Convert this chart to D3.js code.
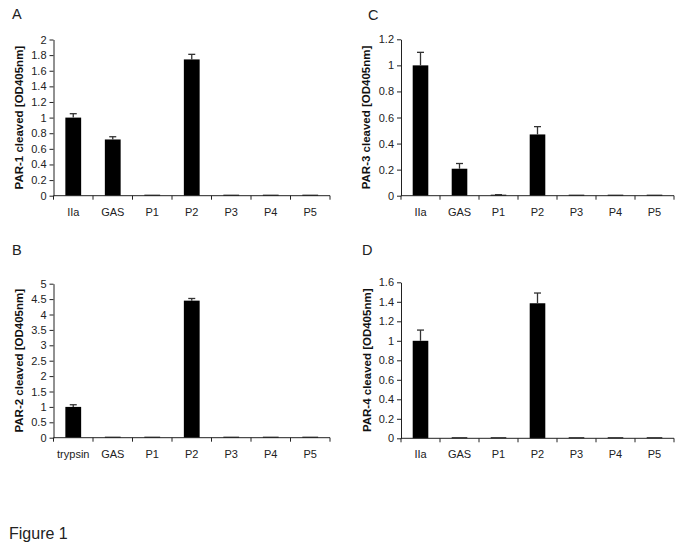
<!DOCTYPE html>
<html>
<head>
<meta charset="utf-8">
<script src="https://cdn.jsdelivr.net/npm/d3@7"></script>
<style>
  html, body { margin: 0; padding: 0; background: #fff; }
  svg { display: block; font-family: Arial, "Liberation Sans", Helvetica, sans-serif; }
</style>
</head>
<body>
<svg id="chart" width="683" height="550"></svg>
<script>
// ---- data ----
const catsA = ["IIa", "GAS", "P1", "P2", "P3", "P4", "P5"];
const valuesA = [1.0, 0.72, 0.0, 1.745, 0.0, 0.0, 0.0];
const errorsA = [0.05, 0.035, 0.0, 0.065, 0.0, 0.0, 0.0];
const ticksA = [0, 0.2, 0.4, 0.6, 0.8, 1, 1.2, 1.4, 1.6, 1.8, 2];

const catsB = ["trypsin", "GAS", "P1", "P2", "P3", "P4", "P5"];
const valuesB = [1.0, 0.01, 0.01, 4.45, 0.01, 0.01, 0.01];
const errorsB = [0.07, 0.0, 0.0, 0.07, 0.0, 0.0, 0.0];
const ticksB = [0, 0.5, 1, 1.5, 2, 2.5, 3, 3.5, 4, 4.5, 5];

const catsC = ["IIa", "GAS", "P1", "P2", "P3", "P4", "P5"];
const valuesC = [1.0, 0.207, 0.005, 0.47, 0.003, 0.003, 0.003];
const errorsC = [0.1, 0.04, 0.003, 0.06, 0.0, 0.0, 0.0];
const ticksC = [0, 0.2, 0.4, 0.6, 0.8, 1, 1.2];

const catsD = ["IIa", "GAS", "P1", "P2", "P3", "P4", "P5"];
const valuesD = [1.0, 0.004, 0.004, 1.385, 0.004, 0.004, 0.004];
const errorsD = [0.11, 0.0, 0.0, 0.105, 0.0, 0.0, 0.0];
const ticksD = [0, 0.2, 0.4, 0.6, 0.8, 1, 1.2, 1.4, 1.6];

const panelLetters = ["A", "B", "C", "D"];
const yTitles = ["PAR-1 cleaved [OD405nm]", "PAR-2 cleaved [OD405nm]", "PAR-3 cleaved [OD405nm]", "PAR-4 cleaved [OD405nm]"];
const figureLabel = "Figure 1";

// ---- layout ----
const panels = [
  { letter: panelLetters[0], title: yTitles[0], cats: catsA, values: valuesA, errors: errorsA, ticks: ticksA,
    x0: 53.5, x1: 330, yTop: 39.5, yBot: 195.7, lx: 12, ly: 18.5, tx: 19 },
  { letter: panelLetters[1], title: yTitles[1], cats: catsB, values: valuesB, errors: errorsB, ticks: ticksB,
    x0: 53.5, x1: 330, yTop: 283.7, yBot: 437.7, lx: 12, ly: 255, tx: 19 },
  { letter: panelLetters[2], title: yTitles[2], cats: catsC, values: valuesC, errors: errorsC, ticks: ticksC,
    x0: 401, x1: 674, yTop: 39.3, yBot: 195.7, lx: 368, ly: 19.5, tx: 366 },
  { letter: panelLetters[3], title: yTitles[3], cats: catsD, values: valuesD, errors: errorsD, ticks: ticksD,
    x0: 401, x1: 674, yTop: 282.3, yBot: 438.3, lx: 362, ly: 255, tx: 367 }
];

const svg = d3.select("#chart");
const axisColor = "#222";
const fmt = d => String(+d.toFixed(2));

panels.forEach(p => {
  const g = svg.append("g");
  const xb = d3.scaleBand().domain(p.cats).range([p.x0, p.x1]);
  const y = d3.scaleLinear().domain([p.ticks[0], p.ticks[p.ticks.length - 1]]).range([p.yBot, p.yTop]);

  // bars
  g.selectAll("rect.bar").data(p.cats).enter().append("rect")
    .attr("class", "bar")
    .attr("x", (d) => xb(d) + xb.bandwidth() * 0.3)
    .attr("width", xb.bandwidth() * 0.4)
    .attr("y", (d, i) => Math.min(y(p.values[i]), p.yBot - 1))
    .attr("height", (d, i) => Math.max(p.yBot - y(p.values[i]), 1))
    .attr("fill", "#000");

  // error bars (upper only)
  const eg = g.selectAll("g.err").data(p.cats).enter().append("g").attr("class", "err")
    .filter((d, i) => p.errors[i] > 0);
  eg.append("line")
    .attr("x1", d => xb(d) + xb.bandwidth() / 2)
    .attr("x2", d => xb(d) + xb.bandwidth() / 2)
    .attr("y1", d => y(p.values[p.cats.indexOf(d)]))
    .attr("y2", d => { const i = p.cats.indexOf(d); return y(p.values[i] + p.errors[i]); })
    .attr("stroke", "#333").attr("stroke-width", 1.3);
  eg.append("line")
    .attr("x1", d => xb(d) + xb.bandwidth() / 2 - 3.5)
    .attr("x2", d => xb(d) + xb.bandwidth() / 2 + 3.5)
    .attr("y1", d => { const i = p.cats.indexOf(d); return y(p.values[i] + p.errors[i]); })
    .attr("y2", d => { const i = p.cats.indexOf(d); return y(p.values[i] + p.errors[i]); })
    .attr("stroke", "#333").attr("stroke-width", 1.3);

  // y axis
  const yAxis = d3.axisLeft(y).tickValues(p.ticks).tickFormat(fmt).tickSize(4).tickPadding(3).tickSizeOuter(0);
  const ya = g.append("g").attr("transform", `translate(${p.x0},0)`).call(yAxis);
  ya.select(".domain").attr("stroke", axisColor);
  ya.selectAll(".tick line").attr("stroke", axisColor);
  ya.selectAll("text").attr("font-size", "11px").attr("fill", "#222").attr("font-family", "Arial, 'Liberation Sans', sans-serif");

  // x axis: ticks at band boundaries
  const xa = g.append("g").attr("transform", `translate(0,${p.yBot})`);
  xa.append("line").attr("x1", p.x0).attr("x2", p.x1).attr("y1", 0).attr("y2", 0).attr("stroke", axisColor);
  const bounds = p.cats.map(c => xb(c)).concat([p.x1]);
  xa.selectAll("line.tk").data(bounds).enter().append("line").attr("class", "tk")
    .attr("x1", d => d).attr("x2", d => d).attr("y1", 0).attr("y2", 4).attr("stroke", axisColor);
  xa.selectAll("text").data(p.cats).enter().append("text")
    .attr("x", d => xb(d) + xb.bandwidth() / 2)
    .attr("y", 20)
    .attr("text-anchor", "middle")
    .attr("font-size", "11px").attr("fill", "#222")
    .text(d => d);

  // y title
  g.append("text")
    .attr("transform", `translate(${p.tx},${(p.yTop + p.yBot) / 2}) rotate(-90)`)
    .attr("text-anchor", "middle")
    .attr("dominant-baseline", "central")
    .attr("font-size", "11.5px").attr("font-weight", "bold").attr("fill", "#111")
    .text(p.title);

  // panel letter
  g.append("text").attr("x", p.lx).attr("y", p.ly)
    .attr("font-size", "14.5px").attr("fill", "#222").text(p.letter);
});

svg.append("text").attr("x", 9).attr("y", 539).attr("font-size", "16px").attr("fill", "#222").text(figureLabel);
</script>
</body>
</html>
